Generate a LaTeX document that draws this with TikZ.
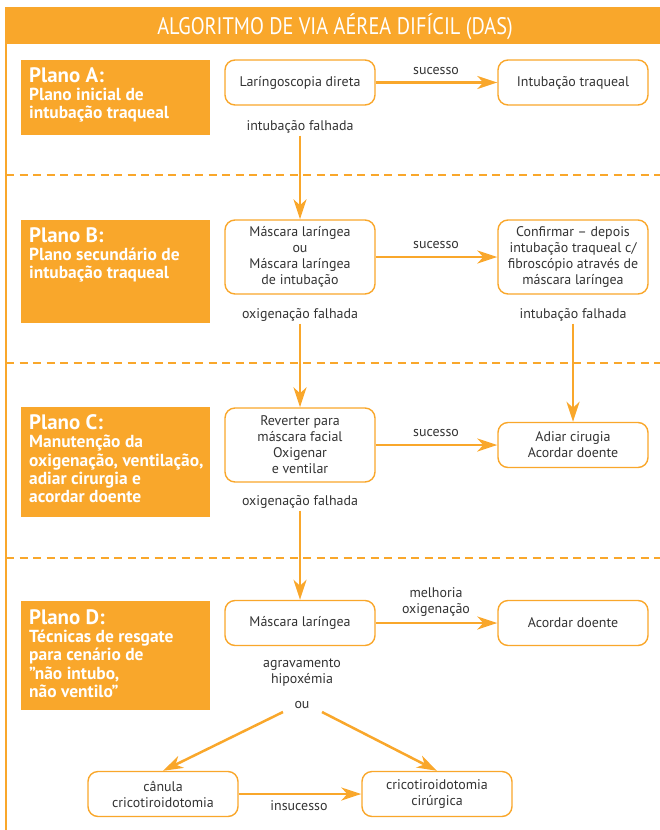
\documentclass[tikz,border=0pt]{standalone}
\usepackage{fontspec}
\setmainfont{PT Sans}
\newfontfamily\titlefont[FakeStretch=0.85]{PT Sans}
\usetikzlibrary{arrows.meta}
\definecolor{dasorange}{HTML}{F9A72B}
\definecolor{txt}{HTML}{333333}
\begin{document}
\begin{tikzpicture}[x=1bp,y=-1bp,
  stepbox/.style={draw=dasorange, line width=1.4bp, rounded corners=10bp, fill=white,
    minimum width=150bp, minimum height=45bp, align=center, text=txt,
    font=\fontsize{14}{16}\selectfont, inner sep=1bp},
  plantext/.style={anchor=north west, inner sep=0pt, align=left, text=white,
    font=\bfseries\fontsize{17.5}{18.5}\selectfont},
  lbl/.style={text=txt, font=\fontsize{14}{16}\selectfont, align=center, inner sep=2bp},
  flow/.style={draw=dasorange, line width=2.5bp,
    -{Stealth[length=20bp,width=13bp,inset=6bp]}},
  sepline/.style={draw=dasorange, line width=2.5bp, dash pattern=on 8bp off 5.5bp}
]
\useasboundingbox (0,0) rectangle (660,830);

% title bar and frame
\fill[dasorange] (5,7) rectangle (660,44);
\node[text=white, font=\titlefont\fontsize{24}{26}\selectfont] (title) at (335,27)
  {ALGORITMO DE VIA AÉREA DIFÍCIL (DAS)};
\draw[dasorange, line width=1.5bp] (6,44) -- (6,830);

% separators between the plans
\draw[sepline] (6,175) -- (660,175);
\draw[sepline] (6,363) -- (660,363);
\draw[sepline] (6,558) -- (660,558);

% plan panels
\fill[dasorange] (21,60) rectangle (210,135);
\fill[dasorange] (21,220) rectangle (210,323);
\fill[dasorange] (21,407) rectangle (210,517);
\fill[dasorange] (21,601) rectangle (210,710);
\node[plantext] (pA) at (29,67) {{\fontsize{21}{18.5}\selectfont Plano A:}\\Plano inicial de\\intubação traqueal};
\node[plantext] (pB) at (29,227) {{\fontsize{21}{18.5}\selectfont Plano B:}\\Plano secundário de\\intubação traqueal};
\node[plantext] (pC) at (29,414) {{\fontsize{21}{18.5}\selectfont Plano C:}\\Manutenção da\\oxigenação, ventilação,\\adiar cirurgia e\\acordar doente};
\node[plantext] (pD) at (29,609) {{\fontsize{21}{18.5}\selectfont Plano D:}\\Técnicas de resgate\\para cenário de\\"não intubo,\\não ventilo”};

% steps
\node[stepbox] (n1) at (300,82.5) {Laríngoscopia direta};
\node[stepbox] (n2) at (573,82.5) {Intubação traqueal};
\node[stepbox, minimum height=74bp] (n3) at (300,257) {Máscara laríngea\\ou\\Máscara laríngea\\de intubação};
\node[stepbox, minimum height=74bp] (n4) at (573,257) {Confirmar – depois\\intubação traqueal c/\\fibroscópio através de\\máscara laríngea};
\node[stepbox, minimum height=74bp] (n5) at (300,445) {Reverter para\\máscara facial\\Oxigenar\\e ventilar};
\node[stepbox] (n6) at (573,445) {Adiar cirugia\\Acordar doente};
\node[stepbox] (n7) at (300,623) {Máscara laríngea};
\node[stepbox] (n8) at (573,623) {Acordar doente};
\node[stepbox] (n9) at (163,794) {cânula\\cricotiroidotomia};
\node[stepbox] (n10) at (437,794) {cricotiroidotomia\\cirúrgica};

% labels
\node[lbl] (sA) at (436,71) {sucesso};
\node[lbl] (sB) at (436,245) {sucesso};
\node[lbl] (sC) at (436,433) {sucesso};
\node[lbl] (sD) at (436,602) {melhoria\\oxigenação};
\node[lbl] (fA) at (300,127) {intubação falhada};
\node[lbl] (fB) at (300,315) {oxigenação falhada};
\node[lbl] (fB2) at (573,315) {intubação falhada};
\node[lbl] (fC) at (300,502) {oxigenação falhada};
\node[lbl] (ag) at (302,673) {agravamento\\hipoxémia};
\node[lbl] (ou) at (302,705) {ou};
\node[lbl] (ins) at (299,806) {insucesso};
\coordinate (dl) at (283,712);
\coordinate (dr) at (322,712);

% connectors
\draw[flow] (n1.east) -- (n2.west);
\draw[flow] (n3.east) -- (n4.west);
\draw[flow] (n5.east) -- (n6.west);
\draw[flow] (n7.east) -- (n8.west);
\draw[flow] (fA.south) -- (n3.north);
\draw[flow] (fB.south) -- (n5.north);
\draw[flow] (fB2.south) -- (n6.north);
\draw[flow] (fC.south) -- (n7.north);
\draw[flow] (dl) -- (n9.north);
\draw[flow] (dr) -- (n10.north);
\draw[flow] (n9.east) -- (n10.west);
\end{tikzpicture}
\end{document}
